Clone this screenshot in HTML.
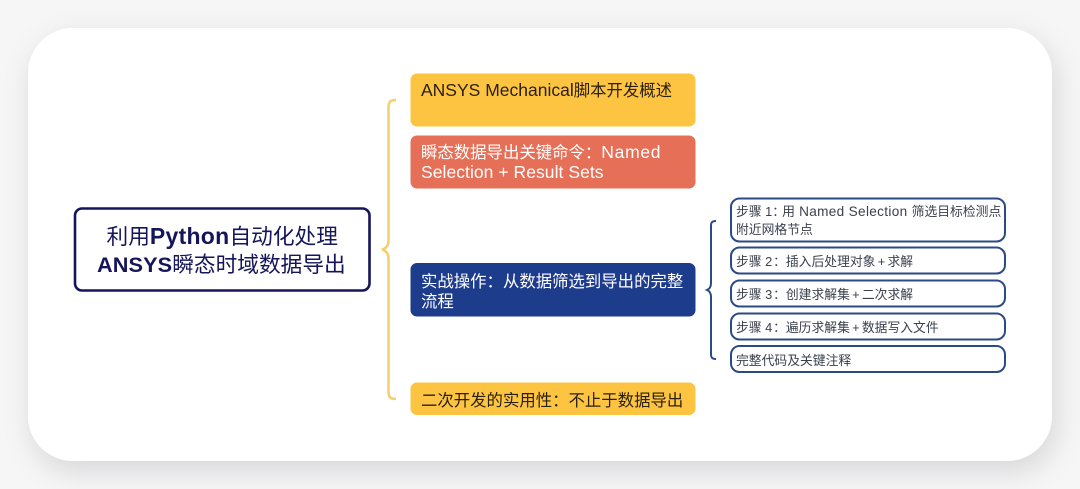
<!DOCTYPE html>
<html><head><meta charset="utf-8">
<style>
html,body{margin:0;padding:0;width:1080px;height:489px;overflow:hidden;background:#f6f6f7}
svg{display:block;position:absolute;left:0;top:0}
text{font-family:"Liberation Sans","Noto Sans CJK SC",sans-serif;white-space:pre}
</style></head>
<body>
<svg width="1080" height="489" viewBox="0 0 1080 489" xmlns="http://www.w3.org/2000/svg">
<defs>
<filter id="s" x="-10%" y="-20%" width="120%" height="140%"><feDropShadow dx="4" dy="10" stdDeviation="14" flood-color="#000" flood-opacity="0.13"/></filter>
</defs>
<rect x="28" y="28" width="1024" height="433" rx="45" fill="#fff" filter="url(#s)"/>

<!-- root -->
<rect x="75" y="208.500" width="294.500" height="82" rx="7" fill="#fff" stroke="#15155a" stroke-width="2.600"/>
<g font-size="21.700" fill="#15155a">
<text x="106.500" y="244">利用<tspan font-weight="bold" font-size="23" letter-spacing="0.270">Python</tspan>自动化处理</text>
<text x="97" y="272"><tspan font-weight="bold" letter-spacing="0.100">ANSYS</tspan>瞬态时域数据导出</text>
</g>

<!-- main brace -->
<path d="M396 100 C390 100 388.500 102 388.500 108 L388.500 240 C388.500 246 386 248.500 382 249.500 C386 250.500 388.500 253 388.500 259 L388.500 391 C388.500 397 390 399 396 399" fill="none" stroke="#f5cf6c" stroke-width="2.500"/>

<!-- main boxes -->
<rect x="410.500" y="73.500" width="285" height="53" rx="6.500" fill="#fdc441"/>
<rect x="410.500" y="135.500" width="285" height="53" rx="6.500" fill="#e66f57"/>
<rect x="410.500" y="263" width="285" height="53.500" rx="6.500" fill="#1e3c8c"/>
<rect x="410.500" y="382.500" width="285" height="32.500" rx="6.500" fill="#fdc441"/>

<g font-size="16.400">
<text x="421" y="96" fill="#2a2010"><tspan font-size="17.500">ANSYS Mechanical</tspan>脚本开发概述</text>
<text x="421" y="158" fill="#fff">瞬态数据导出关键命令&#xFF1A;<tspan font-size="17.500" letter-spacing="0.700">Named</tspan></text>
<text x="421" y="178" fill="#fff" font-size="17.500" letter-spacing="0.050">Selection + Result Sets</text>
<text x="421" y="287" fill="#fff">实战操作&#xFF1A;从数据筛选到导出的完整</text>
<text x="421" y="307" fill="#fff">流程</text>
<text x="421" y="406" fill="#2a2010">二次开发的实用性&#xFF1A;不止于数据导出</text>
</g>

<!-- sub brace -->
<path d="M716 221 C712 221 711 222.500 711 226 L711 283 C711 287 709.500 289 707 290 C709.500 291 711 293 711 297 L711 354 C711 357.500 712 359 716 359" fill="none" stroke="#2b4a86" stroke-width="2"/>

<!-- sub boxes -->
<g fill="#fff" stroke="#2b4a86" stroke-width="2">
<rect x="731" y="198.500" width="274" height="43" rx="8.500"/>
<rect x="731" y="247.500" width="274" height="26" rx="8.500"/>
<rect x="731" y="280.500" width="274" height="26" rx="8.500"/>
<rect x="731" y="313.500" width="274" height="26" rx="8.500"/>
<rect x="731" y="346" width="274" height="26" rx="8.500"/>
</g>
<g font-size="12.800" fill="#3a3f4c">
<text x="736" y="216">步骤 1&#xFF1A;<tspan dx="-2.900">用</tspan><tspan font-size="13.600" letter-spacing="0.330"> Named Selection </tspan>筛选目标检测点</text>
<text x="736" y="234">附近网格节点</text>
<text x="736" y="266">步骤 <tspan letter-spacing="0.800">2</tspan>&#xFF1A;插入后处理对象<tspan word-spacing="-1.300"> + </tspan>求解</text>
<text x="736" y="299">步骤 <tspan letter-spacing="0.800">3</tspan>&#xFF1A;创建求解集<tspan word-spacing="-1.300"> + </tspan>二次求解</text>
<text x="736" y="332">步骤 <tspan letter-spacing="0.800">4</tspan>&#xFF1A;遍历求解集<tspan word-spacing="-1.300"> + </tspan>数据写入文件</text>
<text x="736" y="365">完整代码及关键注释</text>
</g>
</svg>
</body></html>
